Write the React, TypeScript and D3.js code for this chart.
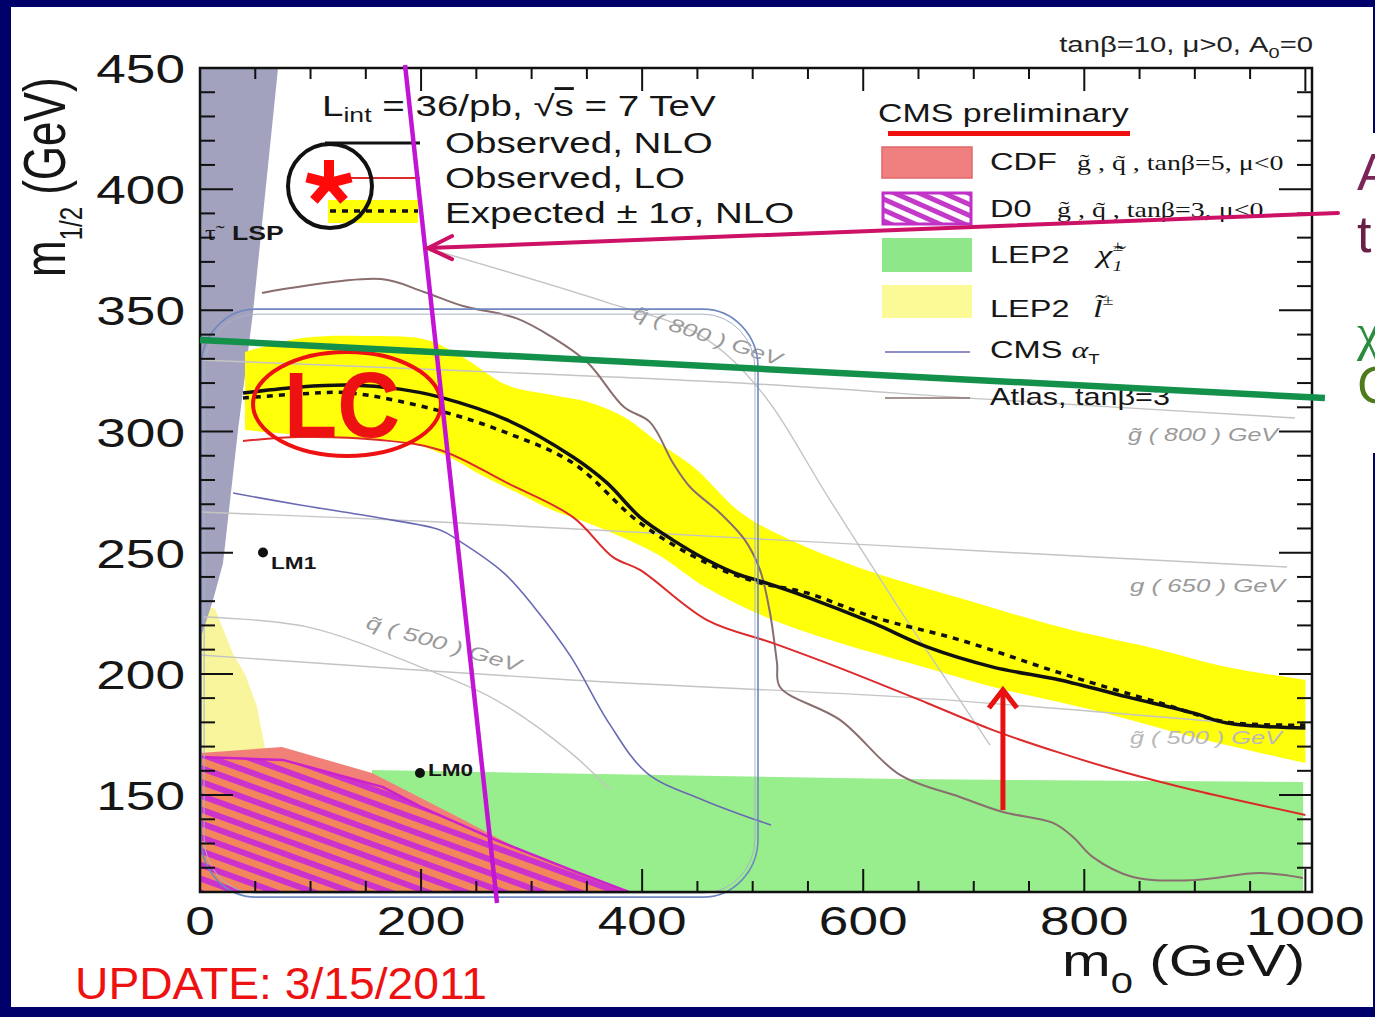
import React from 'react';
import * as d3 from 'd3';

type P = [number, number];

const W = 1375;
const H = 1017;
const SX = 1.33; // the plot image was stretched sideways
const NAVY = '#00006b';
const SANS = "'Liberation Sans', Arial, Helvetica, sans-serif";
const SERIF = "'Liberation Serif', 'Times New Roman', serif";

// axis ticks
const xTickValues = [0, 200, 400, 600, 800, 1000];
const yTickValues = [150, 200, 250, 300, 350, 400, 450];

// excluded / allowed regions (m0, m1/2) in GeV
const lspRegion: P[] = [[0, 450], [70.6, 450], [47.9, 349], [34.4, 300.6], [20.8, 245.7], [11.8, 230.5], [4.5, 220.2], [0, 214]];
const lep2SleptonRegion: P[] = [[0, 228.8], [13.6, 226.8], [29.9, 208.2], [40.7, 200], [51.6, 186.4], [60.6, 165], [0, 160.6]];
const lep2CharginoRegion: P[] = [[155.6, 160.3], [633.3, 156.6], [998, 155.4], [998, 110], [155.6, 110]];
const cdfRegion: P[] = [[0, 167.4], [74.2, 169.8], [155.6, 159.1], [233.4, 140.9], [302.2, 124.4], [388, 110], [0, 110]];
const d0Region: P[] = [[0, 165.7], [75, 164.5], [165.6, 153.3], [199.9, 145.1], [267.8, 131.4], [335.6, 119.1], [388, 110], [0, 110]];

// expected +-1 sigma band
const expectedUpper: P[] = [[40.7, 332.8], [92.3, 338.6], [157.4, 339.4], [205.4, 337.8], [237.9, 330.7], [277.7, 319.2], [318.4, 315.1], [351, 312.2], [383.6, 306], [415.2, 295.3], [447.8, 284.9], [488.5, 266.8], [524.7, 257.3], [597.1, 243.7], [687.5, 231.3], [778, 219.3], [868.5, 209.9], [929.1, 202.8], [1000, 197.5]];
const expectedLower: P[] = [[40.7, 300.6], [124.8, 297.3], [189.1, 295.3], [221.6, 290.3], [254.2, 282.1], [285.9, 275], [318.4, 267.6], [351, 262.3], [383.6, 256.1], [415.2, 249], [458.7, 235.4], [518.4, 222.2], [579, 212.7], [657.7, 202.4], [717.4, 194.6], [807.8, 185.1], [898.3, 174], [1000, 163.2]];

// limit curves
const observedNLO: P[] = [[38.9, 315.9], [90.5, 318.4], [135.7, 319.2], [180.9, 317.5], [217.1, 314.2], [277.7, 304.8], [337.4, 289.5], [368.2, 278.8], [398, 264.7], [427.9, 255.2], [458.7, 247], [488.5, 240.8], [503.9, 238.7], [549.1, 231.7], [608.8, 221], [657.7, 211.1], [717.4, 202.8], [778, 197.5], [838.6, 190.5], [898.3, 183.9], [929.1, 179.7], [1000, 177.7]];
const expectedNLO: P[] = [[38.9, 313.8], [90.5, 315.5], [135.7, 315.9], [217.1, 308.5], [277.7, 299.4], [337.4, 287], [398, 262.3], [458.7, 245.7], [503.9, 237.9], [549.1, 233.4], [608.8, 223.5], [687.5, 214], [778, 200.4], [868.5, 188], [929.1, 180.1], [1000, 178.9]];
const observedLO: P[] = [[38.9, 296.1], [90.5, 297.7], [162.8, 296.5], [217.1, 292.4], [277.7, 278.8], [337.4, 264.7], [373.6, 248.2], [398, 242.9], [458.7, 222.2], [518.4, 212.7], [579, 202.4], [657.7, 188], [717.4, 176.8], [778, 167.4], [838.6, 159.1], [898.3, 152.1], [1000, 141.8]];
const atlas: P[] = [[56.1, 357.2], [163.7, 362.9], [202.6, 357.6], [237.9, 351.8], [285.9, 346.8], [318.4, 339], [351, 328.3], [383.6, 310.1], [407.1, 303.9], [427.9, 287], [443.3, 277.1], [470.4, 266.4], [493, 255.2], [506.6, 242.9], [515.7, 225.1], [522, 204.5], [524.7, 194.6], [579, 181], [633.3, 158.3], [687.5, 149.2], [726.4, 143], [771.7, 138.5], [789.8, 132.7], [807.8, 124.4], [844, 116.2], [898.3, 114.9], [958.9, 117.8], [997.8, 115.8]];
const cmsAlphaT: P[] = [[29.9, 274.6], [90.5, 269.7], [162.8, 264.3], [217.1, 259.4], [233.4, 255.2], [275, 241.6], [302.2, 227.6], [335.6, 207], [370, 179.7], [404.4, 159.1], [455, 148], [516.5, 137.6]];

// iso-mass contours
const gluino800: P[] = [[0, 329.5], [221.6, 325.4], [488.5, 320], [723.6, 313], [990.6, 305.6]];
const gluino650: P[] = [[0, 266.8], [217.1, 262.7], [488.5, 256.1], [723.7, 250.3], [983.4, 244.1]];
const gluino500: P[] = [[0, 207.8], [335.6, 197.5], [633.3, 190.5], [814.2, 184.3], [986, 177.7]];
const squark500: P[] = [[2.7, 223.5], [97.7, 219.3], [199.9, 202.8], [267.8, 189.2], [335.6, 167.4], [370.9, 152.1]];
const squark800: P[] = [[217.1, 374.1], [367.3, 353.4], [452.3, 339.8], [506.6, 317.1], [569.9, 271.7], [633.3, 226.4], [714.7, 170.6]];

// benchmark points
const benchmarks = [
  { name: 'LM1', m0: 57, m12: 250.1 },
  { name: 'LM0', m0: 199, m12: 159.1 },
];

// hand-drawn annotations, in plot units
const magentaLine: P[] = [[185.5, 451.2], [268.7, 105.5]];
const greenLine: P[] = [[0, 337.8], [1017.7, 313.8]];
const pinkArrow: P[] = [[1029.5, 390.2], [206.3, 375.7]];
const redArrow: P[] = [[726.4, 143.8], [726.4, 194.2]];
const lcCenter: P = [133, 311.4];
const starCenter: P = [117.6, 401.3];
const roundBox = { m0a: 1, m0b: 504.8, top: 350.5, bottom: 107.9 };

const T = ({ x, y, size, anchor = 'start', fill = '#161616', weight = 'normal', family = SANS, italic = false, sx = SX, children }: any) => (
  <text transform={`translate(${x},${y}) scale(${sx},1)`} fontSize={size} textAnchor={anchor} fill={fill}
    fontWeight={weight} fontFamily={family} fontStyle={italic ? 'italic' : 'normal'}>{children}</text>
);

export default function App() {
  const x = d3.scaleLinear().domain([0, 1006]).range([200, 1312]);
  const y = d3.scaleLinear().domain([110, 450]).range([892, 68]);
  const smooth = d3.line<P>().x(d => x(d[0])).y(d => y(d[1])).curve(d3.curveCatmullRom.alpha(0.5));
  const poly = d3.line<P>().x(d => x(d[0])).y(d => y(d[1]));
  const closed = (pts: P[]) => poly(pts) + 'Z';
  const band = smooth(expectedUpper) + 'L' + (smooth([...expectedLower].reverse()) as string).slice(1) + 'Z';

  const xMinor = d3.range(50, 1000, 50).filter(v => v % 200 !== 0);
  const yMinor = d3.range(120, 450, 10).filter(v => v % 50 !== 0);

  const px = (p: P) => [x(p[0]), y(p[1])];
  const [pa0, pa1] = [px(pinkArrow[0]), px(pinkArrow[1])];
  const [ra0, ra1] = [px(redArrow[0]), px(redArrow[1])];
  const [lcx, lcy] = px(lcCenter);
  const [scx, scy] = px(starCenter);
  const rb = { x0: x(roundBox.m0a), x1: x(roundBox.m0b), y0: y(roundBox.top), y1: y(roundBox.bottom) };
  const starAngles = [-90, -14, 49, 131, 194];

  return (
    <div style={{ position: 'absolute', left: 0, top: 0, width: W, height: H, overflow: 'hidden' }}>
      <svg width={W} height={H} viewBox={`0 0 ${W} ${H}`} style={{ display: 'block' }}>
        <defs>
          <clipPath id="plot"><rect x={200} y={68} width={1112} height={824} /></clipPath>
          <pattern id="d0hatch" patternUnits="userSpaceOnUse" width={14} height={13} patternTransform="rotate(20)">
            <rect width={14} height={13} fill="#f3875c" />
            <rect width={14} height={6} fill="#cc33cc" />
          </pattern>
          <pattern id="d0legend" patternUnits="userSpaceOnUse" width={12} height={10} patternTransform="rotate(24)">
            <rect width={12} height={10} fill="#ffffff" />
            <rect width={12} height={5} fill="#c43ac8" />
          </pattern>
        </defs>

        <rect width={W} height={H} fill={NAVY} />
        <rect x={11} y={7} width={1362} height={1000} fill="#ffffff" />
        <rect x={1373} y={133} width={2} height={320} fill="#ffffff" />

        <g clipPath="url(#plot)">
          <path d={closed(lep2CharginoRegion)} fill="#98ee8c" />
          <path d={closed(lep2SleptonRegion)} fill="#f8f59c" />
          <path d={closed(lspRegion)} fill="#a2a2be" />
          <path d={closed(cdfRegion)} fill="#f08078" />
          <path d={closed(d0Region)} fill="url(#d0hatch)" />
          <path d={poly(d0Region.slice(0, 7)) as string} fill="none" stroke="#cc22cc" strokeWidth={2.5} />
          <path d={band} fill="#ffff0a" />
          {[gluino800, gluino650, gluino500, squark500, squark800].map((c, i) => (
            <path key={i} d={smooth(c) as string} fill="none" stroke="#c4c4c4" strokeWidth={1.4} />
          ))}
          <path d={smooth(cmsAlphaT) as string} fill="none" stroke="#6a6ab4" strokeWidth={1.6} />
          <path d={smooth(atlas) as string} fill="none" stroke="#8a6e6e" strokeWidth={2} />
          <path d={smooth(observedLO) as string} fill="none" stroke="#dd2a2a" strokeWidth={2} />
          <path d={smooth(observedNLO) as string} fill="none" stroke="#111" strokeWidth={3.5} />
          <path d={smooth(expectedNLO) as string} fill="none" stroke="#111" strokeWidth={3.5} strokeDasharray="6 6" />
        </g>

        {/* contour labels */}
        <text x={x(839.5)} y={y(296.1)} fontSize={19} fontFamily={SANS} fontStyle="italic" fill="#9a9a9a" textLength={150} lengthAdjust="spacingAndGlyphs">g̃ ( 800 ) GeV</text>
        <text x={x(841.3)} y={y(233.8)} fontSize={19} fontFamily={SANS} fontStyle="italic" fill="#9a9a9a" textLength={155} lengthAdjust="spacingAndGlyphs">g ( 650 ) GeV</text>
        <text x={x(841.3)} y={y(171.1)} fontSize={18} fontFamily={SANS} fontStyle="italic" fill="#b8b8b8" textLength={152} lengthAdjust="spacingAndGlyphs">g̃ ( 500 ) GeV</text>
        <text transform={`translate(${x(390.8)},${y(346.8)}) rotate(18)`} fontSize={19} fontFamily={SANS} fontStyle="italic" fill="#9a9a9a" textLength={155} lengthAdjust="spacingAndGlyphs">q̃ ( 800 ) GeV</text>
        <text transform={`translate(${x(149.3)},${y(218.9)}) rotate(16)`} fontSize={19} fontFamily={SANS} fontStyle="italic" fill="#9a9a9a" textLength={160} lengthAdjust="spacingAndGlyphs">q̃ ( 500 ) GeV</text>

        {/* rounded box annotation */}
        <rect x={rb.x0} y={rb.y0} width={rb.x1 - rb.x0} height={rb.y1 - rb.y0} rx={55} ry={58} fill="none" stroke="#7088c0" strokeWidth={1.6} />
        <rect x={rb.x0 + 3} y={rb.y0 + 5} width={rb.x1 - rb.x0 - 6} height={rb.y1 - rb.y0 - 9} rx={52} ry={55} fill="none" stroke="#a8b2c4" strokeWidth={1} />

        {benchmarks.map(b => (
          <g key={b.name}>
            <circle cx={x(b.m0)} cy={y(b.m12)} r={5} fill="#111" />
            <T x={x(b.m0) + 8} y={y(b.m12) + 17 - (b.name === 'LM0' ? 14 : 0)} size={17} weight="bold">{b.name}</T>
          </g>
        ))}
        <T x={205} y={240} size={20} family={SERIF}>τ̃</T>
        <T x={232} y={240} size={20} weight="bold">LSP</T>

        {/* frame and ticks */}
        <rect x={200} y={68} width={1112} height={824} fill="none" stroke="#111" strokeWidth={2.5} />
        <g stroke="#111" strokeWidth={2}>
          {yMinor.map(v => (
            <g key={'ym' + v}>
              <line x1={200} x2={215} y1={y(v)} y2={y(v)} />
              <line x1={1312} x2={1297} y1={y(v)} y2={y(v)} />
            </g>
          ))}
          {yTickValues.filter(v => v < 450).map(v => (
            <g key={'yM' + v}>
              <line x1={200} x2={233} y1={y(v)} y2={y(v)} />
              <line x1={1312} x2={1279} y1={y(v)} y2={y(v)} />
            </g>
          ))}
          {xMinor.map(v => (
            <g key={'xm' + v}>
              <line x1={x(v)} x2={x(v)} y1={892} y2={881} />
              <line x1={x(v)} x2={x(v)} y1={68} y2={79} />
            </g>
          ))}
          {xTickValues.filter(v => v > 0).map(v => (
            <g key={'xM' + v}>
              <line x1={x(v)} x2={x(v)} y1={892} y2={869} />
              <line x1={x(v)} x2={x(v)} y1={68} y2={91} />
            </g>
          ))}
        </g>

        {yTickValues.map(v => (
          <T key={'yl' + v} x={185} y={y(v) + 15} size={40} anchor="end">{String(v)}</T>
        ))}
        {xTickValues.map(v => (
          <T key={'xl' + v} x={x(v)} y={935} size={40} anchor="middle">{String(v)}</T>
        ))}

        {/* axis titles */}
        <T x={1062} y={976} size={44}>m<tspan fontSize={30} dy={17}>0</tspan><tspan dy={-17}> (GeV)</tspan></T>
        <text transform={`translate(65,277) scale(${SX},1) rotate(-90)`} fontSize={44} fontFamily={SANS} fill="#161616">
          m<tspan fontSize={24} dy={13}>1/2</tspan><tspan dy={-13}> (GeV)</tspan>
        </text>
        <T x={1313} y={52} size={22} anchor="end" fill="#222">tanβ=10, μ&gt;0, A<tspan fontSize={15} dy={6}>0</tspan><tspan dy={-6}>=0</tspan></T>

        {/* left legend */}
        <T x={322} y={116} size={29}>L<tspan fontSize={20} dy={6}>int</tspan><tspan dy={-6}> = 36/pb, √</tspan><tspan style={{ textDecoration: 'overline' }}>s</tspan> = 7 TeV</T>
        <line x1={325} x2={420} y1={143} y2={143} stroke="#111" strokeWidth={3} />
        <T x={445} y={153} size={29}>Observed, NLO</T>
        <line x1={325} x2={420} y1={178} y2={178} stroke="#dd2a2a" strokeWidth={2} />
        <T x={445} y={188} size={29}>Observed, LO</T>
        <rect x={328} y={200} width={90} height={23} fill="#ffff0a" />
        <line x1={330} x2={418} y1={211} y2={211} stroke="#111" strokeWidth={3.5} strokeDasharray="6 6" />
        <T x={445} y={223} size={29}>Expected ± 1σ, NLO</T>

        {/* right legend */}
        <T x={878} y={122} size={25.5}>CMS preliminary</T>
        <rect x={882} y={147} width={90} height={31} fill="#f08080" stroke="#e06868" strokeWidth={1.5} />
        <T x={990} y={170} size={24.5}>CDF</T>
        <T x={1077} y={170} size={21} family={SERIF}>g̃ , q̃ , tanβ=5, μ&lt;0</T>
        <rect x={883} y={193} width={88} height={31} fill="url(#d0legend)" stroke="#c030c8" strokeWidth={3} />
        <T x={990} y={217} size={24.5}>D0</T>
        <T x={1057} y={217} size={21} family={SERIF}>g̃ , q̃ , tanβ=3, μ&lt;0</T>
        <rect x={882} y={238} width={90} height={34} fill="#8ee88a" />
        <T x={990} y={263} size={24.5}>LEP2</T>
        <T x={1097} y={263} size={26} family={SERIF} italic>χ̃<tspan fontSize={15} dy={-12}>±</tspan><tspan fontSize={15} dx={-8} dy={20}>1</tspan></T>
        <rect x={882} y={285} width={90} height={33} fill="#fbfa96" />
        <T x={990} y={317} size={24.5}>LEP2</T>
        <T x={1093} y={317} size={26} family={SERIF} italic>l̃<tspan fontSize={15} dy={-12}>±</tspan></T>
        <line x1={885} x2={970} y1={352} y2={352} stroke="#6a6ab4" strokeWidth={1.6} />
        <T x={990} y={358} size={24.5}>CMS <tspan fontFamily={SERIF} fontStyle="italic" fontSize={24}>α</tspan><tspan fontSize={14} dy={6}>T</tspan></T>
        <line x1={885} x2={970} y1={398} y2={398} stroke="#8a6e6e" strokeWidth={1.6} />
        <T x={990} y={405} size={23}>Atlas, tanβ=3</T>

        {/* annotations */}
        <rect x={888} y={131} width={242} height={5} fill="#ee0f0f" />
        <ellipse cx={lcx} cy={lcy} rx={94} ry={52} fill="none" stroke="#ee1111" strokeWidth={4} />
        <text x={284} y={437} fontSize={92} fontWeight="bold" fontFamily={SANS} fill="#ee1111" textLength={116} lengthAdjust="spacingAndGlyphs">LC</text>
        <circle cx={scx} cy={scy} r={42} fill="none" stroke="#111" strokeWidth={4} />
        <g stroke="#ff0a0a" strokeWidth={10}>
          {starAngles.map(a => (
            <line key={a} x1={scx - 1} y1={scy - 3} x2={scx - 1 + 23 * Math.cos(a * Math.PI / 180)} y2={scy - 3 + 23 * Math.sin(a * Math.PI / 180)} />
          ))}
        </g>
        <path d={poly(magentaLine) as string} stroke="#c214d4" strokeWidth={4.5} fill="none" />
        <path d={poly(greenLine) as string} stroke="#13914b" strokeWidth={6.5} fill="none" />
        <g stroke="#cc1166" strokeWidth={4} fill="none" strokeLinecap="round">
          <line x1={pa0[0]} y1={pa0[1]} x2={pa1[0]} y2={pa1[1]} />
          <polyline points={`${pa1[0] + 24},${pa1[1] - 12} ${pa1[0]},${pa1[1]} ${pa1[0] + 24},${pa1[1] + 11}`} />
        </g>
        <g stroke="#e81010" strokeWidth={5} fill="none">
          <line x1={ra0[0]} y1={ra0[1]} x2={ra1[0]} y2={ra1[1] + 2} />
          <polyline points={`${ra1[0] - 14},${ra1[1] + 20} ${ra1[0]},${ra1[1] + 2} ${ra1[0] + 14},${ra1[1] + 20}`} />
        </g>

        <text x={75} y={999} fontSize={45} fontFamily={SANS} fill="#ee1111" textLength={412} lengthAdjust="spacingAndGlyphs">UPDATE: 3/15/2011</text>

        {/* slide text spilling in from the right */}
        <text x={1357} y={190} fontSize={52} fontFamily={SANS} fill="#7b2458">A</text>
        <text x={1357} y={252} fontSize={52} fontFamily={SANS} fill="#6a2046">t</text>
        <text x={1357} y={350} fontSize={52} fontFamily={SERIF} fill="#2a8c3c">χ</text>
        <text x={1357} y={403} fontSize={52} fontFamily={SANS} fill="#4c7a1c">C</text>
      </svg>
    </div>
  );
}
